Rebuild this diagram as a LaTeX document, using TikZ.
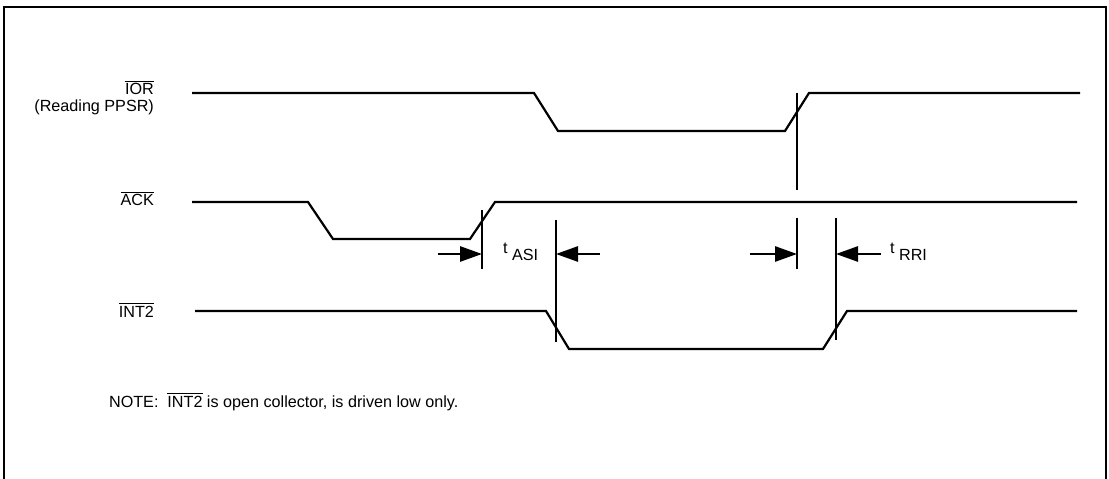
\documentclass[tikz,border=0pt]{standalone}
\usepackage{fontspec}
\setmainfont{Liberation Sans}
\usetikzlibrary{arrows.meta}
\begin{document}
\begin{tikzpicture}[x=0.25mm,y=-0.25mm,line width=0.55mm,
    font=\fontsize{11.5}{13}\selectfont,
    >={Triangle[length=5.5mm,width=3.8mm]},
    wave/.style={line join=miter},
    lbl/.style={anchor=base east,inner sep=0pt},
    tlbl/.style={anchor=base west,inner sep=0pt}]
  \useasboundingbox (0,0) rectangle (1109,479);
  \draw[line width=0.5mm] (4,479) -- (4,7) -- (1106,7) -- (1106,479);

  % signal names
  \node[lbl] (ior) at (155,95) {$\overline{\mbox{IOR}}$};
  \node[lbl] (iorsub) at (155,112) {(Reading PPSR)};
  \node[lbl] (ack) at (155,206) {$\overline{\mbox{ACK}}$};
  \node[lbl] (int) at (155,317) {$\overline{\mbox{INT2}}$};

  % waveforms
  \draw[wave] (192,93) -- (534,93) -- (558,131) -- (785,131) -- (809,93) -- (1080,93);
  \draw[wave] (192,202) -- (308,202) -- (333,239) -- (470,239) -- (495,202) -- (1077,202);
  \draw[wave] (195,311) -- (546,311) -- (569,349) -- (823,349) -- (847,311) -- (1077,311);

  % reference lines
  \draw (482,210) coordinate (asiA) -- (482,269);
  \draw (556,220) coordinate (asiB) -- (556,342);
  \draw (797,93) -- (797,190);
  \draw (797,218) coordinate (rriA) -- (797,269);
  \draw (836,218) coordinate (rriB) -- (836,340);

  \draw[->] (438,254) -- (asiA |- 0,254);
  \draw[->] (600,254) -- (asiB |- 0,254);
  \draw[->] (750,254) -- (rriA |- 0,254);
  \draw[->] (881,254) -- (rriB |- 0,254);

  \node[tlbl] (tasi) at (502,253) {t \raisebox{-5pt}{ASI}};
  \node[tlbl] (trri) at (889,253) {t \raisebox{-5pt}{RRI}};

  \node[anchor=base west,inner sep=0pt] (note) at (108,407)
    {NOTE:\ \ $\overline{\mbox{INT2}}$ is open collector, is driven low only.};
\end{tikzpicture}
\end{document}
